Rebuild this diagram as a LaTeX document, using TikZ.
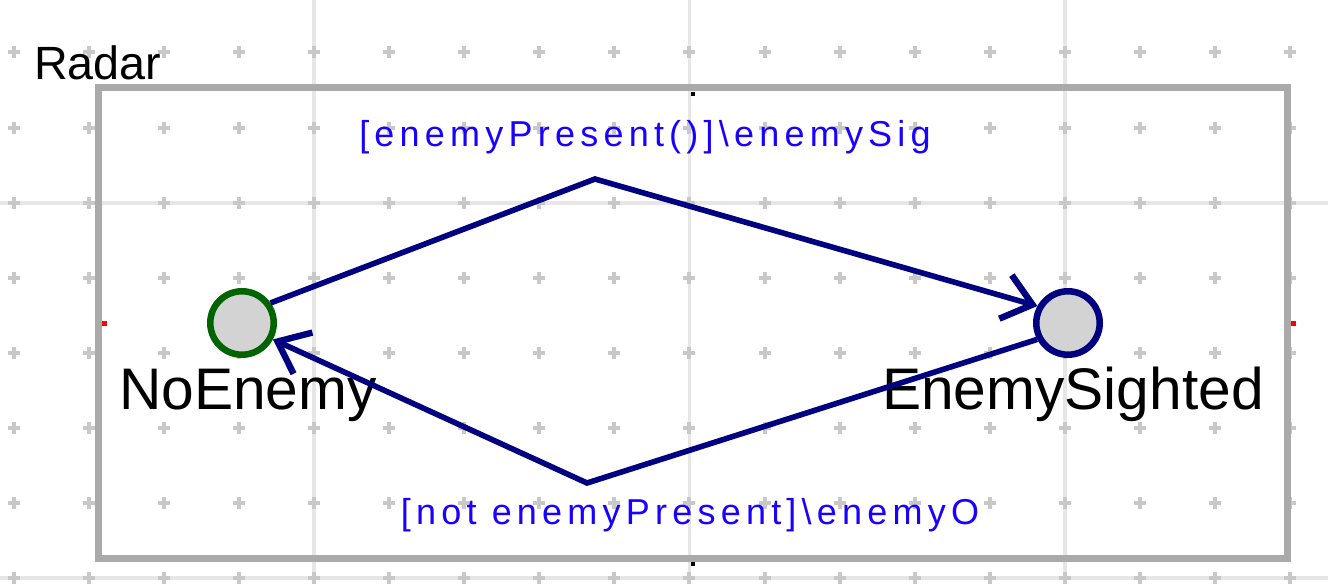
\documentclass[tikz,border=0pt]{standalone}
\usepackage{fontspec}
\setmainfont{Liberation Sans}
\newfontfamily\guardfont{Liberation Sans}[LetterSpace=14.5]
\usepackage{xcolor}
\usetikzlibrary{arrows.meta, calc}

\definecolor{stateFill}{HTML}{D3D3D3}
\definecolor{initGreen}{HTML}{006400}
\definecolor{transNavy}{HTML}{000080}
\definecolor{boxGray}{HTML}{AAAAAA}
\definecolor{gridMajor}{HTML}{E6E6E6}
\definecolor{gridMinor}{HTML}{C8C8C8}
\definecolor{guardBlue}{HTML}{1A00FF}

\begin{document}
\begin{tikzpicture}[
    x=0.75pt, y=-0.75pt,
    >={Straight Barb[length=21pt, width=34pt, line width=4.8pt]},
    gridline/.style={draw=gridMajor, line width=2.8pt},
    gridplus/.style={draw=gridMinor, line width=3pt},
    regionBox/.style={
        rectangle,
        draw=boxGray,
        line width=5.25pt,
        minimum width=891.75pt,
        minimum height=352.5pt,
        inner sep=0pt
    },
    baseState/.style={
        circle,
        fill=stateFill,
        line width=4.9pt,
        minimum size=47.6pt,
        inner sep=0pt
    },
    initState/.style={baseState, draw=initGreen},
    plainState/.style={baseState, draw=transNavy},
    stateName/.style={font=\fontsize{44}{48}\selectfont, inner sep=0pt, anchor=base},
    guard/.style={font=\guardfont\fontsize{27}{30}\selectfont, text=guardBlue, inner sep=0pt, anchor=base},
    trans/.style={->, draw=transNavy, line width=4.2pt}
]
    \useasboundingbox (0,0) rectangle (1328,584);

    % --- Background grid ---
    \foreach \i in {4,9,14} {
        \draw[gridline] ({13.5+75.1*\i},0) -- ({13.5+75.1*\i},584);
    }
    \foreach \j in {2,7} {
        \draw[gridline] (0,{52.5+75.1*\j}) -- (1328,{52.5+75.1*\j});
    }
    \foreach \i in {0,...,17} {
        \foreach \j in {0,...,7} {
            \draw[gridplus] ({13.5+75.1*\i-6},{52.5+75.1*\j}) -- ++(12,0)
                            ({13.5+75.1*\i},{52.5+75.1*\j-6}) -- ++(0,12);
        }
    }

    % --- Region ---
    \node[regionBox] (radar) at (692.5,323) {};
    \node[font=\fontsize{35}{38}\selectfont, inner sep=0pt, anchor=base west] (radarName) at (34,80) {Radar};

    % --- Handles ---
    \fill[black] (691,92) rectangle ++(4,4);
    \fill[black] (691,562) rectangle ++(4,4);
    \fill[red] (102,321) rectangle ++(5,5);
    \fill[red] (1291,321) rectangle ++(5,5);

    % --- States ---
    \node[initState] (noEnemy) at (242,323) {};
    \node[plainState] (enemySighted) at (1068,323) {};
    \node[stateName] (noEnemyName) at ($(noEnemy.center)+(6,87)$) {NoEnemy};
    \node[stateName] (enemySightedName) at ($(enemySighted.center)+(5,87)$) {EnemySighted};

    % --- Guards ---
    \coordinate (sightBend) at (595,179);
    \coordinate (lostBend) at (587,483);
    \node[guard] (sightGuard) at (645,147) {[enemyPresent()]\textbackslash enemySig};
    \node[guard] (lostGuard) at (690,524) {[not enemyPresent]\textbackslash enemyO};

    % --- Transitions ---
    \draw[trans] (noEnemy.35) -- (sightBend) -- (enemySighted.151);
    \draw[trans] (enemySighted.208) -- (lostBend) -- (noEnemy.332);
\end{tikzpicture}
\end{document}
